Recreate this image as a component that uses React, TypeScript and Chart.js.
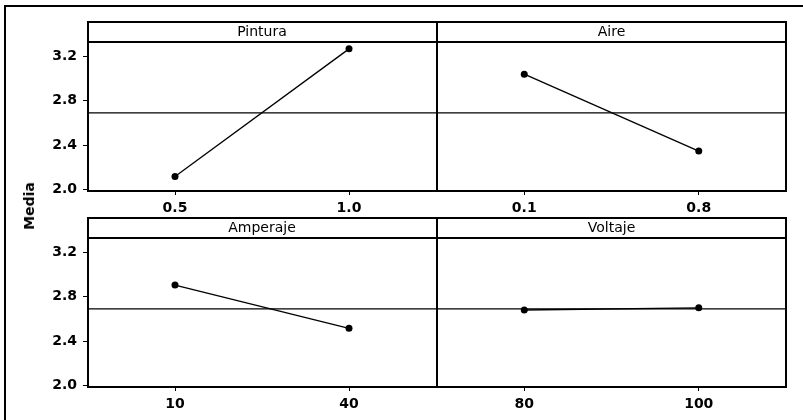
import React, { useEffect, useRef } from "react";
import { Chart, registerables } from "chart.js";

Chart.register(...registerables);

// ---- data ----
const factorNames = ["Pintura", "Aire", "Amperaje", "Voltaje"];
const pinturaLevels = ["0.5", "1.0"];
const pinturaMeans = [2.115, 3.268];
const aireLevels = ["0.1", "0.8"];
const aireMeans = [3.04, 2.345];
const amperajeLevels = ["10", "40"];
const amperajeMeans = [2.905, 2.515];
const voltajeLevels = ["80", "100"];
const voltajeMeans = [2.68, 2.7];
const grandMean = 2.69;
const yTicks = [2.0, 2.4, 2.8, 3.2];
const yMin = 1.985;
const yMax = 3.33;
const yAxisLabel = "Media";

const FONT = "'DejaVu Sans', 'Verdana', sans-serif";

const framePlugin = {
  id: "panelFrame",
  afterDraw(chart: any, _args: any, opts: any) {
    const { left, right, top, bottom } = chart.chartArea;
    const hh = chart.titleBlock ? chart.titleBlock.height : 20;
    const ctx = chart.ctx;
    const l = Math.round(left);
    const r = Math.round(right);
    const t = Math.round(top);
    const b = Math.round(bottom);
    const ht = Math.round(top - hh);
    ctx.save();
    ctx.strokeStyle = "#000";
    ctx.lineWidth = 2;
    ctx.beginPath();
    // left, top, bottom, header divider
    ctx.moveTo(l, b);
    ctx.lineTo(l, ht);
    ctx.lineTo(r + 1, ht);
    ctx.moveTo(l - 1, b);
    ctx.lineTo(r + 1, b);
    ctx.moveTo(l, t);
    ctx.lineTo(r + 1, t);
    if (opts && opts.drawRight) {
      ctx.moveTo(r, ht - 1);
      ctx.lineTo(r, b + 1);
    }
    ctx.stroke();
    ctx.restore();
  },
};

type PanelProps = {
  title: string;
  levels: string[];
  means: number[];
  left: number;
  top: number;
  width: number;
  height: number;
  padLeft: number;
  padRight: number;
  padTop: number;
  showY: boolean;
};

function Panel(p: PanelProps) {
  const ref = useRef<HTMLCanvasElement | null>(null);
  useEffect(() => {
    if (!ref.current) return;
    const idx = p.levels.map((_, i) => i);
    const tickFont = { family: FONT, size: 14, weight: "bold" as const };
    const yScale: any = {
      display: p.showY,
      min: yMin,
      max: yMax,
      afterBuildTicks: (s: any) => {
        s.ticks = yTicks.map((v) => ({ value: v }));
      },
      ticks: {
        callback: (v: any) => Number(v).toFixed(1),
        font: tickFont,
        color: "#000",
        padding: 6,
      },
      grid: { drawOnChartArea: false, drawTicks: true, tickLength: 5, color: "#000", lineWidth: 1 },
      border: { display: false },
    };
    if (p.showY) {
      yScale.afterFit = (s: any) => {
        s.width = 88 - p.padLeft;
      };
    }
    const chart = new Chart(ref.current, {
      type: "line",
      data: {
        datasets: [
          {
            data: p.means.map((m, i) => ({ x: i, y: m })),
            borderColor: "#000",
            borderWidth: 1.3,
            pointRadius: 3.5,
            pointBackgroundColor: "#000",
            pointBorderColor: "#000",
            pointBorderWidth: 0,
            tension: 0,
          },
          {
            data: [
              { x: -0.5, y: grandMean },
              { x: p.levels.length - 0.5, y: grandMean },
            ],
            borderColor: "#000",
            borderWidth: 1.2,
            pointRadius: 0,
          },
        ],
      },
      options: {
        animation: false,
        responsive: false,
        maintainAspectRatio: false,
        layout: { padding: { left: p.padLeft, right: p.padRight, top: p.padTop, bottom: 0 } },
        plugins: {
          legend: { display: false },
          tooltip: { enabled: false },
          panelFrame: { drawRight: !p.showY },
          title: {
            display: true,
            text: p.title,
            fullSize: false,
            color: "#000",
            font: { family: FONT, size: 14, weight: "normal", lineHeight: 1.2 },
            padding: { top: 1.6, bottom: 1.6 },
          },
        },
        scales: {
          x: {
            type: "linear",
            min: -0.5,
            max: p.levels.length - 0.5,
            afterBuildTicks: (s: any) => {
              s.ticks = idx.map((v) => ({ value: v }));
            },
            afterFit: (s: any) => {
              s.height = 24;
            },
            ticks: {
              callback: (v: any) => p.levels[Math.round(Number(v))],
              font: tickFont,
              color: "#000",
              padding: 5,
              autoSkip: false,
              maxRotation: 0,
            },
            grid: { drawOnChartArea: false, drawTicks: true, tickLength: 4, color: "#000", lineWidth: 1 },
            border: { display: false },
          },
          y: yScale,
        },
      } as any,
      plugins: [framePlugin],
    });
    return () => chart.destroy();
  }, []);
  return (
    <canvas
      ref={ref}
      width={p.width}
      height={p.height}
      style={{ position: "absolute", left: p.left, top: p.top, width: p.width, height: p.height }}
    />
  );
}

export default function App() {
  return (
    <div style={{ position: "absolute", left: 0, top: 0, width: 803, height: 420, overflow: "hidden", background: "#fff" }}>
      <div
        style={{
          position: "absolute",
          left: 4,
          top: 5,
          width: 799,
          height: 415,
          boxSizing: "border-box",
          borderLeft: "2px solid #000",
          borderTop: "2px solid #000",
        }}
      />
      <Panel title={factorNames[0]} levels={pinturaLevels} means={pinturaMeans}
        left={0} top={0} width={440} height={215} padLeft={0} padRight={3} padTop={22} showY={true} />
      <Panel title={factorNames[1]} levels={aireLevels} means={aireMeans}
        left={430} top={0} width={373} height={215} padLeft={7} padRight={17} padTop={22} showY={false} />
      <Panel title={factorNames[2]} levels={amperajeLevels} means={amperajeMeans}
        left={0} top={197} width={440} height={214} padLeft={0} padRight={3} padTop={21} showY={true} />
      <Panel title={factorNames[3]} levels={voltajeLevels} means={voltajeMeans}
        left={430} top={197} width={373} height={214} padLeft={7} padRight={17} padTop={21} showY={false} />
      <div
        style={{
          position: "absolute",
          left: 29,
          top: 206,
          transform: "translate(-50%, -50%) rotate(-90deg)",
          fontFamily: FONT,
          fontWeight: "bold",
          fontSize: 14,
          color: "#000",
          whiteSpace: "nowrap",
        }}
      >
        {yAxisLabel}
      </div>
    </div>
  );
}
